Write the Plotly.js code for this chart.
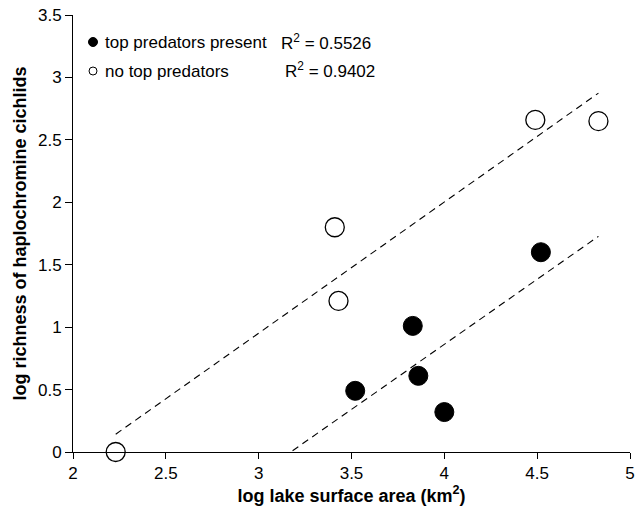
<!DOCTYPE html>
<html>
<head>
<meta charset="utf-8">
<script src="https://cdn.plot.ly/plotly-3.0.1.min.js"></script>
<style>html,body{margin:0;padding:0;background:#fff;}#chart{width:635px;height:508px;}</style>
</head>
<body>
<div id="chart"></div>
<script>
// Data
const predX = [3.52, 3.83, 3.86, 4.00, 4.52];
const predY = [0.49, 1.01, 0.61, 0.32, 1.60];
const noPredX = [2.23, 3.41, 3.43, 4.49, 4.83];
const noPredY = [0.00, 1.80, 1.21, 2.66, 2.65];
const predLabel = 'top predators present';
const noPredLabel = 'no top predators';
const predR2 = '0.5526';
const noPredR2 = '0.9402';
const xTicks = [2, 2.5, 3, 3.5, 4, 4.5, 5];
const yTicks = [0, 0.5, 1, 1.5, 2, 2.5, 3, 3.5];

function fit(xs, ys) {
  const n = xs.length;
  const mx = xs.reduce((a, b) => a + b, 0) / n;
  const my = ys.reduce((a, b) => a + b, 0) / n;
  let sxy = 0, sxx = 0;
  for (let i = 0; i < n; i++) { sxy += (xs[i] - mx) * (ys[i] - my); sxx += (xs[i] - mx) ** 2; }
  const m = sxy / sxx;
  return { m: m, b: my - m * mx };
}
const allX = predX.concat(noPredX);
const x0 = Math.min(...allX), x1 = Math.max(...allX);
const fP = fit(predX, predY), fN = fit(noPredX, noPredY);

const lineStyle = { color: 'black', width: 1.1, dash: '7px,5px' };
const traces = [
  { x: [x0, x1], y: [fN.m * x0 + fN.b, fN.m * x1 + fN.b], mode: 'lines', line: lineStyle, hoverinfo: 'skip', showlegend: false },
  { x: [x0, x1], y: [fP.m * x0 + fP.b, fP.m * x1 + fP.b], mode: 'lines', line: lineStyle, hoverinfo: 'skip', showlegend: false },
  { x: noPredX, y: noPredY, mode: 'markers', name: noPredLabel, cliponaxis: false,
    marker: { symbol: 'circle', size: 19, color: 'white', line: { color: 'black', width: 1.3 } }, showlegend: false },
  { x: predX, y: predY, mode: 'markers', name: predLabel, cliponaxis: false,
    marker: { symbol: 'circle', size: 19, color: 'black', line: { color: 'black', width: 1 } }, showlegend: false }
];

const fam = 'Liberation Sans, Arial, sans-serif';
const font = { family: fam, size: 17, color: 'black' };
const titleFont = { family: fam, size: 18, color: 'black', weight: 'bold' };
const layout = {
  width: 635, height: 508,
  margin: { l: 73, r: 5, t: 15, b: 56 },
  paper_bgcolor: 'white', plot_bgcolor: 'white',
  font: font,
  showlegend: false,
  xaxis: {
    range: [2, 5], tickvals: xTicks, ticktext: xTicks.map(String),
    showgrid: false, zeroline: false, showline: true, linecolor: 'black', linewidth: 1,
    ticks: 'outside', ticklen: 6, tickcolor: 'black', tickfont: font, ticklabeloverflow: 'allow',
    title: { text: 'log lake surface area (km<sup>2</sup>)', font: titleFont, standoff: 3 }
  },
  yaxis: {
    range: [0, 3.5], tickvals: yTicks, ticktext: yTicks.map(String),
    showgrid: false, zeroline: false, showline: true, linecolor: 'black', linewidth: 1,
    ticks: 'outside', ticklen: 7, tickcolor: 'black', tickfont: font, ticklabeloverflow: 'allow',
    title: { text: 'log richness of haplochromine cichlids', font: titleFont, standoff: 6 }
  },
  shapes: [
    { type: 'circle', xref: 'paper', yref: 'paper', xsizemode: 'pixel', ysizemode: 'pixel',
      xanchor: 0.0, yanchor: 1.0, x0: 15.5, x1: 24.5, y0: -31.5, y1: -22.5,
      fillcolor: 'black', line: { color: 'black', width: 1 } },
    { type: 'circle', xref: 'paper', yref: 'paper', xsizemode: 'pixel', ysizemode: 'pixel',
      xanchor: 0.0, yanchor: 1.0, x0: 16, x1: 24, y0: -60, y1: -52,
      fillcolor: 'white', line: { color: 'black', width: 1 } }
  ],
  annotations: [
    { xref: 'paper', yref: 'paper', x: 0, y: 1, xshift: 30, yshift: -27, xanchor: 'left', yanchor: 'middle', showarrow: false, text: predLabel, font: font },
    { xref: 'paper', yref: 'paper', x: 0, y: 1, xshift: 30, yshift: -56, xanchor: 'left', yanchor: 'middle', showarrow: false, text: noPredLabel, font: font },
    { xref: 'paper', yref: 'paper', x: 0, y: 1, xshift: 206, yshift: -27, xanchor: 'left', yanchor: 'middle', showarrow: false, text: 'R<sup>2</sup> = ' + predR2, font: font },
    { xref: 'paper', yref: 'paper', x: 0, y: 1, xshift: 210, yshift: -55, xanchor: 'left', yanchor: 'middle', showarrow: false, text: 'R<sup>2</sup> = ' + noPredR2, font: font }
  ]
};
Plotly.newPlot('chart', traces, layout, { displayModeBar: false, staticPlot: true });
</script>
</body>
</html>
